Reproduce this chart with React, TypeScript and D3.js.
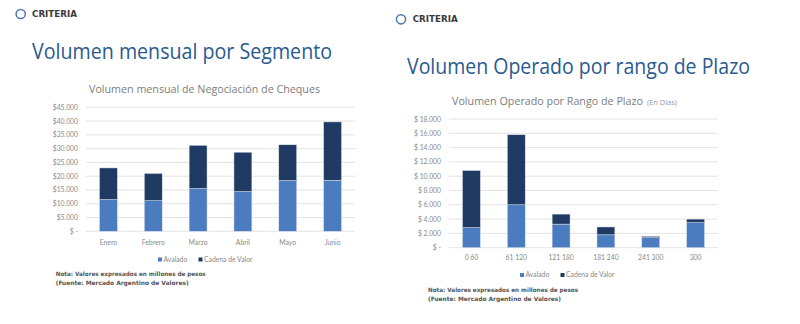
import React from "react";
import * as d3 from "d3";

const months = ["Enero", "Febrero", "Marzo", "Abril", "Mayo", "Junio"];
const monthAvalado = [11500, 11100, 15500, 14400, 18400, 18500];
const monthCadena = [11500, 9900, 15700, 14300, 13000, 21200];
const monthTicks = [0, 5000, 10000, 15000, 20000, 25000, 30000, 35000, 40000, 45000];

const plazos = ["0 60", "61 120", "121 180", "181 240", "241 300", "300"];
const plazoAvalado = [2800, 6000, 3300, 1800, 1400, 3500];
const plazoCadena = [8000, 9800, 1400, 1100, 200, 500];
const plazoTicks = [0, 2000, 4000, 6000, 8000, 10000, 12000, 14000, 16000, 18000];

const seriesNames = ["Avalado", "Cadena de Valor"];
const colors = ["#4a7cbf", "#1f3a63"];

const fmtNum = (v: number) => d3.format(",")(v).replace(/,/g, ".");

type PanelProps = {
  cats: string[];
  a: number[];
  b: number[];
  ticks: number[];
  max: number;
  x0: number;
  x1: number;
  yTop: number;
  yBot: number;
  labelRight: number;
  space: boolean;
  catY: number;
  legendY: number;
  legendX: number;
  legendGap: number;
};

function Panel(p: PanelProps) {
  const x = d3.scaleBand<string>().domain(p.cats).range([p.x0, p.x1]).paddingInner(0.6).paddingOuter(0.3);
  const y = d3.scaleLinear().domain([0, p.max]).range([p.yBot, p.yTop]);
  const stack = d3.stack<any>().keys(["a", "b"])(p.cats.map((c, i) => ({ cat: c, a: p.a[i], b: p.b[i] })));
  return (
    <g>
      {p.ticks.map((t) => (
        <g key={t}>
          <line x1={p.x0} x2={p.x1} y1={y(t)} y2={y(t)} stroke="#dcdcdc" strokeWidth={0.8} />
          <text x={p.labelRight} y={y(t) + 2.5} fontSize={6.8} fill="#8a8a8a" textAnchor="end" fontFamily="Lato, sans-serif">
            {t === 0 ? "$    -  " : (p.space ? "$ " : "$") + fmtNum(t)}
          </text>
        </g>
      ))}
      {stack.map((s, si) => (
        <g key={si}>
          {s.map((d, i) => (
            <rect
              key={i}
              x={x(p.cats[i])!}
              width={x.bandwidth()}
              y={y(d[1])}
              height={y(d[0]) - y(d[1])}
              fill={colors[si]}
              stroke="#dfe6f0"
              strokeWidth={0.5}
            />
          ))}
        </g>
      ))}
      {p.cats.map((c) => (
        <text key={c} x={x(c)! + x.bandwidth() / 2} y={p.catY} fontSize={6.8} fill="#8a8a8a" textAnchor="middle" fontFamily="Lato, sans-serif">
          {c}
        </text>
      ))}
      {seriesNames.map((n, i) => (
        <g key={n}>
          <rect x={p.legendX + i * p.legendGap} y={p.legendY - 3.5} width={4} height={4} fill={colors[i]} />
          <text x={p.legendX + i * p.legendGap + 5.5} y={p.legendY + 0.5} fontSize={6.8} fill="#8a8a8a" fontFamily="Lato, sans-serif">
            {n}
          </text>
        </g>
      ))}
    </g>
  );
}

function Logo({ cx, cy, tx, tw }: { cx: number; cy: number; tx: number; tw: number }) {
  return (
    <g>
      <circle cx={cx} cy={cy} r={4.6} fill="none" stroke="#4a78b0" strokeWidth={1.5} />
      <text x={tx} y={cy + 3} fontSize={8.5} fontWeight="bold" fill="#3a3a3a" fontFamily="'DejaVu Sans', sans-serif" textLength={tw} lengthAdjust="spacingAndGlyphs">
        CRITERIA
      </text>
    </g>
  );
}

function Note({ x, y }: { x: number; y: number }) {
  return (
    <g fontFamily="'DejaVu Sans', sans-serif" fontSize={6} fill="#555555" fontWeight="bold">
      <text x={x} y={y} textLength={150} lengthAdjust="spacingAndGlyphs">
        Nota: Valores expresados en millones de pesos
      </text>
      <text x={x} y={y + 8.5} textLength={133} lengthAdjust="spacingAndGlyphs">
        (Fuente: Mercado Argentino de Valores)
      </text>
    </g>
  );
}

export default function App() {
  return (
    <svg width={800} height={324} style={{ position: "absolute", left: 0, top: 0, background: "#fff" }}>
      <rect width={800} height={324} fill="#fff" />
      <Logo cx={20.7} cy={14} tx={32} tw={45} />
      <Logo cx={401} cy={19.3} tx={412.7} tw={45} />

      <text x={32} y={59} fontSize={22} fill="#2a5a90" fontFamily="'Open Sans', sans-serif" textLength={300} lengthAdjust="spacingAndGlyphs">
        Volumen mensual por Segmento
      </text>
      <text x={407} y={73.5} fontSize={22} fill="#2a5a90" fontFamily="'Open Sans', sans-serif" textLength={343} lengthAdjust="spacingAndGlyphs">
        Volumen Operado por rango de Plazo
      </text>

      <text x={89} y={92.5} fontSize={10} fill="#7d7d7d" fontFamily="'Open Sans', sans-serif" textLength={231} lengthAdjust="spacingAndGlyphs">
        Volumen mensual de Negociación de Cheques
      </text>
      <text x={452} y={104.5} fontSize={10} fill="#7d7d7d" fontFamily="'Open Sans', sans-serif" textLength={191} lengthAdjust="spacingAndGlyphs">
        Volumen Operado por Rango de Plazo
      </text>
      <text x={647} y={104.5} fontSize={6.5} fill="#9a9a9a" fontFamily="'Open Sans', sans-serif" textLength={30} lengthAdjust="spacingAndGlyphs">
        (En Días)
      </text>

      <Panel
        cats={months}
        a={monthAvalado}
        b={monthCadena}
        ticks={monthTicks}
        max={45000}
        x0={86}
        x1={355}
        yTop={107.3}
        yBot={231.3}
        labelRight={78}
        space={false}
        catY={245}
        legendY={261}
        legendX={158}
        legendGap={40.5}
      />
      <Panel
        cats={plazos}
        a={plazoAvalado}
        b={plazoCadena}
        ticks={plazoTicks}
        max={18000}
        x0={449}
        x1={718}
        yTop={119}
        yBot={247.7}
        labelRight={441}
        space={true}
        catY={260}
        legendY={276.5}
        legendX={520}
        legendGap={40.5}
      />

      <Note x={55.7} y={276} />
      <Note x={428} y={292} />
    </svg>
  );
}
